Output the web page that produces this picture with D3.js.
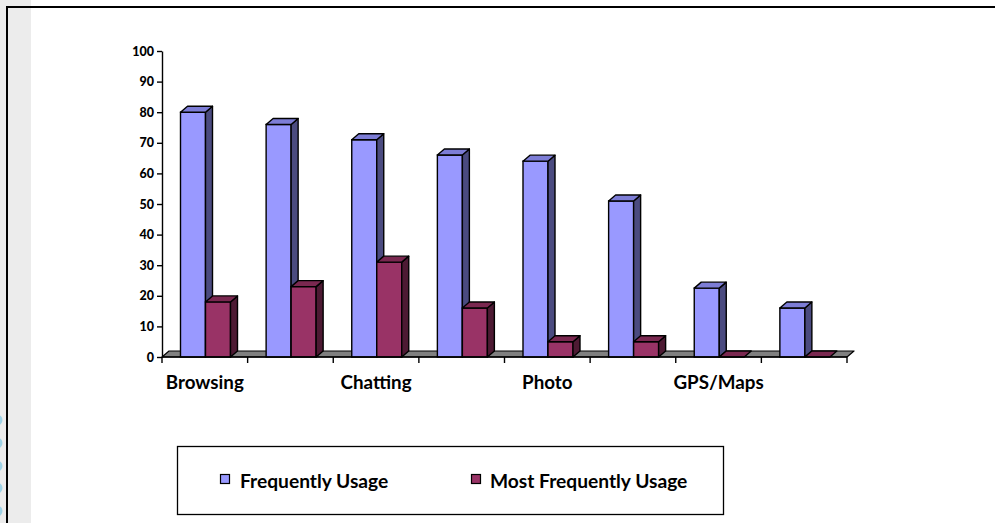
<!DOCTYPE html>
<html>
<head>
<meta charset="utf-8">
<script src="https://cdn.jsdelivr.net/npm/d3@7"></script>
<style>
  html, body { margin: 0; padding: 0; background: #fff; }
  svg { display: block; }
  text { font-family: Lato, "Open Sans", sans-serif; font-weight: bold; fill: #000; }
</style>
</head>
<body>
<svg id="chart" width="995" height="523"></svg>
<script>
// Usage categories (every other label is shown on the axis)
const categories = ["Browsing", "", "Chatting", "", "Photo", "", "GPS/Maps", ""];
const series = ["Frequently Usage", "Most Frequently Usage"];
const frequently = [80, 76, 71, 66, 64, 51, 22.5, 16];
const mostFrequently = [18, 23, 31, 16, 5, 5, 0, 0];
const yTicks = [0, 10, 20, 30, 40, 50, 60, 70, 80, 90, 100];

const palette = {
  "Frequently Usage": { front: "#9999ff", top: "#7d7dd6", side: "#4b4b80" },
  "Most Frequently Usage": { front: "#993366", top: "#7a2850", side: "#4d1a33" }
};

const svg = d3.select("#chart");
const W = 995, H = 523;

// page background: grey side strip and frame lines
svg.append("rect").attr("x", 0).attr("y", 0).attr("width", W).attr("height", H).attr("fill", "#fff");
svg.append("rect").attr("x", 0).attr("y", 0).attr("width", 31).attr("height", H).attr("fill", "#ececec");
svg.append("rect").attr("x", 6).attr("y", 6).attr("width", 2).attr("height", H - 6).attr("fill", "#000");
svg.append("rect").attr("x", 6).attr("y", 6).attr("width", W - 6).attr("height", 2).attr("fill", "#000");
[420, 443, 466, 488, 511].forEach(cy => {
  svg.append("circle").attr("cx", -3).attr("cy", cy).attr("r", 5.5).attr("fill", "#9fd2e6");
});

// scales
const x0 = d3.scaleBand().domain(d3.range(categories.length)).range([162, 847]);
const x1 = d3.scaleBand().domain(series).range([18.5, 68.5]);
const y = d3.scaleLinear().domain([0, 100]).range([357, 51]);
const depth = { dx: 7, dy: 6 };

const data = categories.map((c, i) => ({
  i,
  values: [
    { key: series[0], value: frequently[i] },
    { key: series[1], value: mostFrequently[i] }
  ]
}));

const g = svg.append("g");

// floor of the 3D plot
const y0 = y(0);
g.append("path")
  .attr("d", `M${x0.range()[0]},${y0} L${x0.range()[1]},${y0} L${x0.range()[1] + depth.dx},${y0 - depth.dy} L${x0.range()[0] + depth.dx},${y0 - depth.dy} Z`)
  .attr("fill", "#808080").attr("stroke", "#000").attr("stroke-width", 1.2).attr("stroke-linejoin", "round");

// 3D bars: front, top and side faces
const groups = g.selectAll("g.cat").data(data).join("g").attr("class", "cat")
  .attr("transform", d => `translate(${x0(d.i)},0)`);

groups.selectAll("g.bar").data(d => d.values).join("g").attr("class", "bar")
  .each(function (d) {
    const b = d3.select(this);
    const xl = x1(d.key), w = x1.bandwidth(), yv = y(d.value);
    const c = palette[d.key];
    const sw = 1.4;
    if (d.value > 0) {
      b.append("rect").attr("x", xl).attr("y", yv).attr("width", w).attr("height", y0 - yv)
        .attr("fill", c.front).attr("stroke", "#000").attr("stroke-width", sw);
      b.append("path")
        .attr("d", `M${xl + w},${yv} L${xl + w + depth.dx},${yv - depth.dy} L${xl + w + depth.dx},${y0 - depth.dy} L${xl + w},${y0} Z`)
        .attr("fill", c.side).attr("stroke", "#000").attr("stroke-width", sw).attr("stroke-linejoin", "round");
    }
    b.append("path")
      .attr("d", `M${xl},${yv} L${xl + depth.dx},${yv - depth.dy} L${xl + w + depth.dx},${yv - depth.dy} L${xl + w},${yv} Z`)
      .attr("fill", c.top).attr("stroke", "#000").attr("stroke-width", sw).attr("stroke-linejoin", "round");
  });

// y axis
const yAxis = g.append("g").attr("transform", "translate(162,0)")
  .call(d3.axisLeft(y).tickValues(yTicks).tickSize(5).tickPadding(3).tickSizeOuter(0));
yAxis.select(".domain").attr("stroke", "#000").attr("stroke-width", 1.4);
yAxis.selectAll(".tick line").attr("stroke", "#000").attr("stroke-width", 1.4);
yAxis.selectAll(".tick text").style("font-family", "Lato, sans-serif").style("font-weight", "900")
  .style("font-size", "12.5px").attr("fill", "#000");

// x axis with ticks at category boundaries
const xa = g.append("g");
xa.append("line").attr("x1", 162).attr("x2", 847).attr("y1", y0).attr("y2", y0)
  .attr("stroke", "#000").attr("stroke-width", 1.4);
const boundaries = d3.range(categories.length + 1).map(i => i < categories.length ? x0(i) : x0.range()[1]);
xa.selectAll("line.tk").data(boundaries).join("line").attr("class", "tk")
  .attr("x1", d => d).attr("x2", d => d).attr("y1", y0).attr("y2", y0 + 6)
  .attr("stroke", "#000").attr("stroke-width", 1.4);
xa.selectAll("text.cl").data(categories.map((c, i) => ({ c, i })).filter(d => d.c))
  .join("text").attr("class", "cl")
  .attr("x", d => x0(d.i) + x0.bandwidth() / 2).attr("y", 389)
  .attr("text-anchor", "middle").style("font-size", "18.8px").text(d => d.c);

// legend
const lg = svg.append("g");
lg.append("rect").attr("x", 177.5).attr("y", 446.5).attr("width", 546).attr("height", 68)
  .attr("fill", "#fff").attr("stroke", "#000").attr("stroke-width", 1.3);
const legendPos = [{ mx: 220, tx: 240 }, { mx: 471, tx: 490 }];
series.forEach((s, i) => {
  lg.append("rect").attr("x", legendPos[i].mx + 0.5).attr("y", 474.5).attr("width", 9).attr("height", 9)
    .attr("fill", palette[s].front).attr("stroke", "#000").attr("stroke-width", 1.2);
  lg.append("text").attr("x", legendPos[i].tx).attr("y", 488).style("font-size", "19.2px").text(s);
});
</script>
</body>
</html>
